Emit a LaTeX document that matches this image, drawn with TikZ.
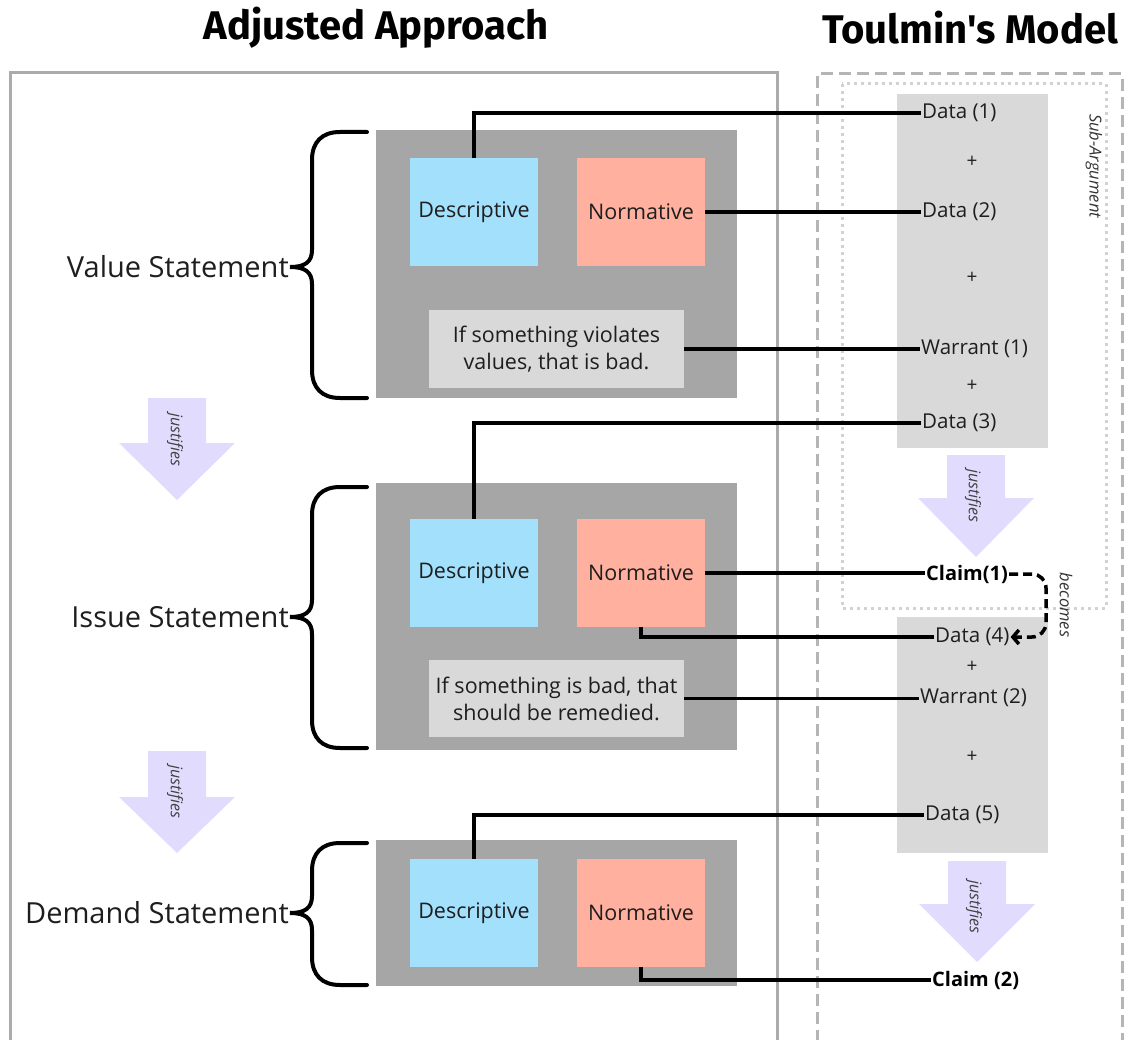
\documentclass[tikz,border=0pt]{standalone}
\usepackage{fontspec}
\setmainfont{Open Sans}
\newfontfamily\titlefont{Fira Sans}
\usetikzlibrary{arrows.meta}
\definecolor{descblue}{HTML}{A3E0FB}
\definecolor{normsal}{HTML}{FFB09E}
\definecolor{boxgray}{HTML}{A6A6A6}
\definecolor{lightg}{HTML}{D9D9D9}
\definecolor{lav}{HTML}{E1DCFD}
\definecolor{framegray}{HTML}{ABABAB}
\definecolor{dashgray}{HTML}{B5B5B5}
\definecolor{dotgray}{HTML}{D2D2D2}
\definecolor{txt}{HTML}{1E1E1E}
\newcommand\mybrace[3]{\draw[bracestyle] (367,#1) -- (340,#1) .. controls (322,#1) and (312,#1+10) .. (312,#1+28) -- (312,#2-17) .. controls (312,#2-5) and (305,#2) .. (290,#2) .. controls (305,#2) and (312,#2+5) .. (312,#2+17) -- (312,#3-28) .. controls (312,#3-10) and (322,#3) .. (340,#3) -- (367,#3);}
\newcommand\justarrow[4]{\fill[lav] (#1-29,#2) -- (#1+29,#2) -- (#1+29,#3) -- (#1+58,#3) -- (#1,#4) -- (#1-58,#3) -- (#1-29,#3) -- cycle;}
\begin{document}
\begin{tikzpicture}[x=1pt,y=-1pt,
  title/.style={font=\titlefont\bfseries\fontsize{40}{42}\selectfont, text=black, inner sep=0pt},
  biglbl/.style={font=\fontsize{29}{34}\selectfont, text=txt, inner sep=1pt, anchor=east},
  bigbox/.style={fill=boxgray, minimum width=361pt, inner sep=0pt},
  descbox/.style={fill=descblue, minimum width=128pt, minimum height=108pt, inner sep=0pt, font=\fontsize{21.5}{24}\selectfont, text=txt},
  normbox/.style={fill=normsal, minimum width=128pt, minimum height=108pt, inner sep=0pt, font=\fontsize{21.5}{24}\selectfont, text=txt},
  tbox/.style={fill=lightg, minimum width=255pt, inner sep=0pt, align=center, font=\fontsize{21.5}{27}\selectfont, text=txt},
  rlbl/.style={font=\fontsize{20.5}{24}\selectfont, text=txt, inner sep=1pt, anchor=west},
  clbl/.style={font=\bfseries\fontsize{20}{22}\selectfont, text=black, inner sep=1pt, anchor=west},
  plus/.style={font=\fontsize{19}{21}\selectfont, text=txt, inner sep=0pt},
  jtxt/.style={font=\itshape\fontsize{16}{18}\selectfont, text=black!75, rotate=-90, inner sep=0pt},
  conn/.style={line width=3.5pt, black},
  bracestyle/.style={line width=4pt, black, line cap=round},
  ]
\useasboundingbox (0,0) rectangle (1126,1040);
\clip (0,0) rectangle (1126,1040);
% titles
\node[title] (t1) at (376,28) {Adjusted Approach};
\node[title] (t2) at (970,28) {Toulmin's Model};
% frames
\draw[framegray, line width=3pt] (10,1060) -- (10,73) -- (777,73) -- (777,1060);
\draw[dashgray, line width=3pt, dash pattern=on 12pt off 6pt] (817,1060) -- (817,74) -- (1122,74) -- (1122,1060);
\draw[dotgray, line width=3pt, dash pattern=on 3pt off 4pt] (842,84) rectangle (1106,608);
\node[font=\itshape\fontsize{16.5}{18}\selectfont, text=black!80, rotate=-90, inner sep=0pt] (sub) at (1094,166) {Sub-Argument};
% right gray boxes
\node[fill=lightg, minimum width=151pt, minimum height=354pt, inner sep=0pt] (tg1) at (972.5,271) {};
\node[fill=lightg, minimum width=151pt, minimum height=236pt, inner sep=0pt] (tg2) at (972.5,735) {};
% left groups
\node[bigbox, minimum height=268pt] (big1) at (556.5,264) {};
\node[descbox] (desc1) at (474,212) {Descriptive};
\node[normbox] (norm1) at (641,212) {Normative};
\node[tbox, minimum height=78pt] (tb1) at (556.5,349) {If something violates\\values, that is bad.};
\node[bigbox, minimum height=267pt] (big2) at (556.5,616.5) {};
\node[descbox] (desc2) at (474,573) {Descriptive};
\node[normbox] (norm2) at (641,573) {Normative};
\node[tbox, minimum height=77pt] (tb2) at (556.5,698.5) {If something is bad, that\\should be remedied.};
\node[bigbox, minimum height=146pt] (big3) at (556.5,913) {};
\node[descbox] (desc3) at (474,913) {Descriptive};
\node[normbox] (norm3) at (641,913) {Normative};
% braces and labels
\node[biglbl] (vs) at (290,267) {Value Statement};
\node[biglbl] (is) at (290,617) {Issue Statement};
\node[biglbl] (ds) at (290,913) {Demand Statement};
\mybrace{132}{267}{398}
\mybrace{487}{617}{748}
\mybrace{843}{913}{985}
% justifies arrows
\justarrow{177}{398}{443}{500}
\node[jtxt] (j1) at (175,440) {justifies};
\justarrow{177}{751}{797}{853}
\node[jtxt] (j2) at (175,792) {justifies};
\justarrow{976}{455}{498}{557}
\node[jtxt] (j3) at (973,496) {justifies};
\justarrow{977}{861}{904}{962}
\node[jtxt] (j4) at (974,907) {justifies};
% right labels
\node[rlbl] (d1) at (921,113) {Data (1)};
\node[plus] (p1) at (972,162) {+};
\node[rlbl] (d2) at (921,212) {Data (2)};
\node[plus] (p2) at (972,278) {+};
\node[rlbl] (w1) at (920,349) {Warrant (1)};
\node[plus] (p3) at (972,386) {+};
\node[rlbl] (d3) at (921,423) {Data (3)};
\node[clbl] (c1) at (925,574) {Claim(1)};
\node[rlbl] (d4) at (934,637) {Data (4)};
\node[plus] (p4) at (972,667) {+};
\node[rlbl] (w2) at (919,698) {Warrant (2)};
\node[plus] (p5) at (972,757) {+};
\node[rlbl] (d5) at (924,815) {Data (5)};
\node[clbl] (c2) at (931,980) {Claim (2)};
% connectors
\draw[conn] (desc1.north) |- (d1.west);
\draw[conn] (norm1.east) -- (d2.west);
\draw[conn] (tb1.east) -- (tb1.east -| w1.west);
\draw[conn] (desc2.north) |- (d3.west);
\draw[conn] (norm2.east) -- (norm2.east -| c1.west);
\draw[conn] (norm2.south) |- (d4.west);
\draw[conn] (tb2.east) -- (tb2.east -| w2.west);
\draw[conn] (desc3.north) |- (d5.west);
\draw[conn] (norm3.south) |- (c2.west);
% becomes
\draw[line width=3.5pt, dash pattern=on 9pt off 5pt, rounded corners=14pt, -{Straight Barb[length=6pt,width=14pt]}] (c1.east) -| (1046,605) |- (d4.east);
\node[font=\itshape\fontsize{16.5}{18}\selectfont, text=black!80, rotate=-90, inner sep=0pt] (bec) at (1066,605) {becomes};
\end{tikzpicture}
\end{document}
